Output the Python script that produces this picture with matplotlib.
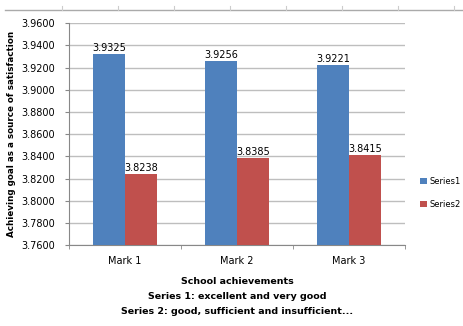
import numpy as np
import matplotlib.pyplot as plt
from matplotlib.lines import Line2D

# data
categories = ["Mark 1", "Mark 2", "Mark 3"]
series1 = [3.9325, 3.9256, 3.9221]
series2 = [3.8238, 3.8385, 3.8415]
series_names = ["Series1", "Series2"]
yticks = [3.76, 3.78, 3.80, 3.82, 3.84, 3.86, 3.88, 3.90, 3.92, 3.94, 3.96]

blue = "#4F81BD"
red = "#C0504D"

plt.rcParams['font.family'] = ['DejaVu Sans']

fig = plt.figure(figsize=(4.64, 3.26), dpi=100)
ax = fig.add_axes([0.149, 0.248, 0.724, 0.681])

x = np.arange(len(categories))
w = 0.285
b1 = ax.bar(x - w/2, np.array(series1) - 3.76, w, bottom=3.76, color=blue, label=series_names[0], zorder=3)
b2 = ax.bar(x + w/2, np.array(series2) - 3.76, w, bottom=3.76, color=red, label=series_names[1], zorder=3)

for xi, v in zip(x - w/2, series1):
    ax.text(xi, v + 0.001, "%.4f" % v, ha='center', va='bottom', fontsize=7)
for xi, v in zip(x + w/2, series2):
    ax.text(xi, v + 0.001, "%.4f" % v, ha='center', va='bottom', fontsize=7)

ax.set_xlim(-0.5, 2.5)
ax.set_ylim(3.76, 3.96)
ax.set_yticks(yticks)
ax.set_yticklabels(["%.4f" % t for t in yticks], fontsize=7)
ax.yaxis.grid(True, color="#BEBEBE", linewidth=1, zorder=0)
ax.set_xticks(x)
ax.set_xticklabels(categories, fontsize=7)
ax.tick_params(axis='x', length=0, pad=8)
ax.tick_params(axis='y', length=3, color="#888888", pad=7)
# small category boundary ticks
ax.set_xticks([-0.5, 0.5, 1.5, 2.5], minor=True)
ax.tick_params(axis='x', which='minor', length=3, color="#888888")
for s in ['top', 'right']:
    ax.spines[s].set_visible(False)
ax.spines['left'].set_color("#888888")
ax.spines['bottom'].set_color("#888888")

ax.set_ylabel("Achieving goal as a source of satisfaction", fontsize=6.3, fontweight='bold', labelpad=4)
ax.set_xlabel("School achievements\nSeries 1: excellent and very good\nSeries 2: good, sufficient and insufficient...",
              fontsize=6.8, fontweight='bold', linespacing=1.8, labelpad=8)

ax.legend(loc='center left', bbox_to_anchor=(1.045, 0.235), frameon=False, fontsize=6,
          handlelength=0.8, handleheight=0.8, handletextpad=0.3, labelspacing=1.7,
          borderaxespad=0, borderpad=0)

# spreadsheet ruler line at the top
fig.add_artist(Line2D([5/464, 1.0], [1 - 10/326] * 2, color="#AAAAAA", linewidth=1))
for px in range(62, 464, 56):
    fig.add_artist(Line2D([px/464] * 2, [1 - 10/326, 1 - 6/326], color="#CCCCCC", linewidth=0.8))

fig.savefig("out.png", dpi=100)
